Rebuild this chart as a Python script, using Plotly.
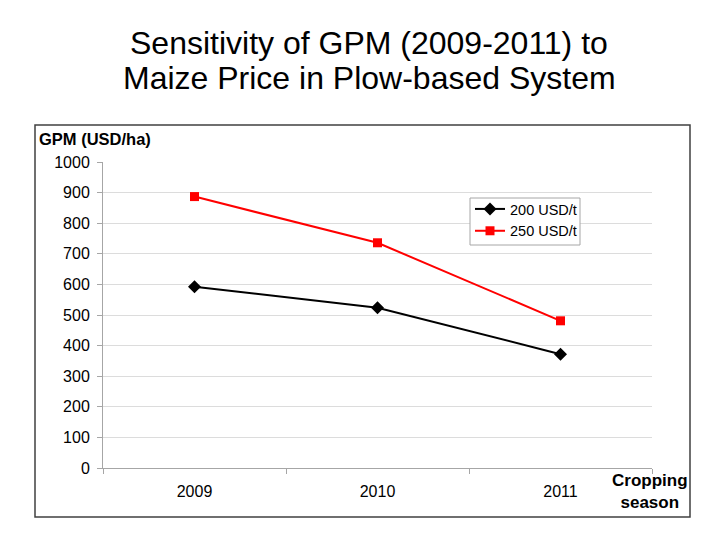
import plotly.graph_objects as go

seasons = ["2009", "2010", "2011"]
price_200 = [592, 524, 372]
price_250 = [887, 736, 481]
y_ticks = [0, 100, 200, 300, 400, 500, 600, 700, 800, 900, 1000]
title_lines = ["Sensitivity of GPM (2009-2011) to", "Maize Price in Plow-based System"]

OFF = 8  # page body margin offset
L, R, T, B = 103 - OFF, 68 + OFF, 162 - OFF, 72 + OFF
W, H = 720, 540
pw, ph = W - L - R, H - T - B

def px(x):
    return (x - OFF - L) / pw

def py(y):
    return (H - B - (y - OFF)) / ph

fig = go.Figure()
fig.add_trace(go.Scatter(x=seasons, y=price_200, name="200 USD/t", mode="lines+markers",
                         line=dict(color="black", width=2),
                         marker=dict(symbol="diamond", size=10, color="black")))
fig.add_trace(go.Scatter(x=seasons, y=price_250, name="250 USD/t", mode="lines+markers",
                         line=dict(color="#ff0000", width=2),
                         marker=dict(symbol="square", size=9, color="#ff0000")))

font = "Liberation Sans, Arial, sans-serif"
fig.update_layout(
    width=W, height=H,
    margin=dict(l=L, r=R, t=T, b=B),
    paper_bgcolor="white", plot_bgcolor="white",
    font=dict(family=font, color="black", size=16),
    xaxis=dict(type="category", range=[-0.5, 2.5], showgrid=False,
               showline=True, linecolor="#a6a6a6", linewidth=1,
               ticks="outside", tickson="boundaries", ticklen=5, tickcolor="#a6a6a6",
               tickfont=dict(size=16), ticklabelstandoff=9),
    yaxis=dict(range=[0, 1000], tickvals=y_ticks, showgrid=True, gridcolor="#dcdcdc",
               gridwidth=1, showline=True, linecolor="#a6a6a6", linewidth=1,
               ticks="outside", ticklen=5, tickcolor="#a6a6a6", zeroline=False,
               tickfont=dict(size=16), ticklabelstandoff=4),
    legend=dict(x=px(470), y=py(193), xanchor="left", yanchor="top",
                bgcolor="rgba(0,0,0,0)", borderwidth=0,
                font=dict(size=14.5), tracegroupgap=0),
    showlegend=True,
)

for line_text, yc in zip(title_lines, [43, 78]):
    fig.add_annotation(text=line_text, xref="paper", yref="paper",
                       x=px(369), y=py(yc), xanchor="center", yanchor="middle",
                       showarrow=False, font=dict(size=32, family=font))

fig.add_shape(type="rect", xref="paper", yref="paper",
              x0=px(470), x1=px(580), y0=py(245), y1=py(198),
              line=dict(color="#a6a6a6", width=1), fillcolor="white", layer="above")

fig.add_shape(type="rect", xref="paper", yref="paper",
              x0=px(35), x1=px(690), y0=py(517), y1=py(125),
              line=dict(color="#404040", width=1.5), fillcolor="rgba(0,0,0,0)")

fig.add_annotation(text="<b>GPM (USD/ha)</b>", xref="paper", yref="paper",
                   x=px(37), y=py(139), xanchor="left", yanchor="middle",
                   showarrow=False, font=dict(size=16.5))
fig.add_annotation(text="<b>Cropping<br>season</b>", xref="paper", yref="paper",
                   x=px(650), y=py(491), xanchor="center", yanchor="middle",
                   showarrow=False, font=dict(size=17), align="center")

fig.write_html("out.html")
